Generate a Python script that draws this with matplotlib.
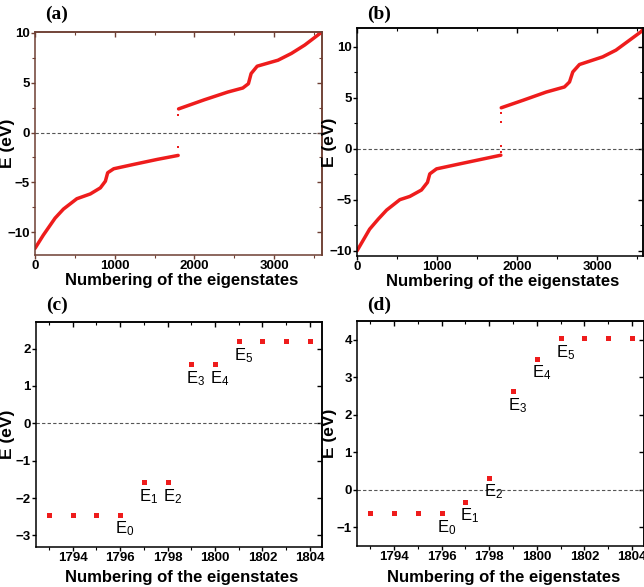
import matplotlib
matplotlib.use('Agg')
import matplotlib.pyplot as plt
from matplotlib.ticker import MultipleLocator

plt.rcParams['font.family'] = ['Liberation Sans', 'DejaVu Sans']

# panel (a): lower branch, in-gap states, upper branch
a_low_x = [0, 105, 252, 357, 525, 694, 820, 883, 912, 988, 1240, 1534, 1796]
a_low_e = [-11.64, -10.3, -8.6, -7.69, -6.65, -6.17, -5.56, -4.89, -4.04, -3.64, -3.2, -2.7, -2.3]
a_gap_x = [1797, 1798, 1799, 1800]
a_gap_e = [-1.45, -1.45, 1.79, 1.79]
a_up_x = [1801, 2122, 2417, 2607, 2677, 2711, 2787, 3048, 3216, 3383, 3600]
a_up_e = [2.37, 3.28, 4.06, 4.47, 4.9, 5.92, 6.66, 7.26, 7.94, 8.78, 10.1]

# panel (b)
b_low_x = [0, 158, 266, 370, 535, 660, 805, 880, 909, 993, 1283, 1796]
b_low_e = [-10.0, -7.87, -6.88, -6.0, -4.98, -4.66, -4.03, -3.28, -2.45, -1.96, -1.47, -0.62]
b_gap_x = [1797, 1798, 1799, 1800]
b_gap_e = [-0.32, 0.32, 2.63, 3.49]
b_up_x = [1801, 2071, 2362, 2590, 2653, 2694, 2777, 3067, 3233, 3545, 3570]
b_up_e = [4.03, 4.76, 5.57, 6.07, 6.56, 7.54, 8.27, 9.02, 9.68, 11.48, 11.7]

# panels (c) and (d): states around the gap
n_states = [1793, 1794, 1795, 1796, 1797, 1798, 1799, 1800, 1801, 1802, 1803, 1804]
c_e = [-2.45, -2.45, -2.44, -2.44, -1.58, -1.58, 1.58, 1.58, 2.2, 2.2, 2.21, 2.21]
d_e = [-0.62, -0.62, -0.62, -0.62, -0.32, 0.32, 2.63, 3.49, 4.03, 4.03, 4.04, 4.04]
lab_idx = [3, 4, 5, 6, 7, 8]
lab_txt = ['E_0', 'E_1', 'E_2', 'E_3', 'E_4', 'E_5']

red = '#ee1c1c'

fig = plt.figure(figsize=(6.44, 5.87), dpi=100)
ax_a = fig.add_axes([0.0543, 0.5656, 0.4457, 0.380])
ax_b = fig.add_axes([0.5543, 0.5639, 0.4441, 0.3884])
ax_c = fig.add_axes([0.0559, 0.0687, 0.4436, 0.3833])
ax_d = fig.add_axes([0.5543, 0.0698, 0.4457, 0.3838])


def style(ax, xmaj, xmin, ymaj, ymin=None, spine_col='black'):
    ax.xaxis.set_major_locator(MultipleLocator(xmaj))
    ax.xaxis.set_minor_locator(MultipleLocator(xmin))
    ax.yaxis.set_major_locator(MultipleLocator(ymaj))
    if ymin:
        ax.yaxis.set_minor_locator(MultipleLocator(ymin))
    for s in ax.spines.values():
        s.set_color(spine_col)
        s.set_linewidth(1.1)
    ax.tick_params(which='both', direction='out', labelsize=9.5, pad=0.8,
                   color=spine_col)
    ax.tick_params(which='major', length=2.8, width=1)
    ax.tick_params(which='minor', length=2, width=0.8)
    for lab in ax.get_xticklabels() + ax.get_yticklabels():
        lab.set_fontweight('bold')
    # inward ticks on top and right
    top = ax.secondary_xaxis('top')
    top.xaxis.set_major_locator(MultipleLocator(xmaj))
    top.xaxis.set_minor_locator(MultipleLocator(xmin))
    right = ax.secondary_yaxis('right')
    right.yaxis.set_major_locator(MultipleLocator(ymaj))
    if ymin:
        right.yaxis.set_minor_locator(MultipleLocator(ymin))
    for sec in (top, right):
        sec.tick_params(which='both', direction='in', labeltop=False,
                        labelright=False, color=spine_col)
        sec.tick_params(which='major', length=3.5, width=1)
        sec.tick_params(which='minor', length=2.5, width=0.8)
        for s in sec.spines.values():
            s.set_color(spine_col)
            s.set_linewidth(1.1)
    ax.set_xlabel('Numbering of the eigenstates', fontsize=12, fontweight='bold')
    ax.set_ylabel('E (eV)', fontsize=12.5, fontweight='bold')
    ax.axhline(0, color='#555555', lw=0.8, ls=(0, (3, 2)), zorder=1)


# (a)
ax_a.plot(a_low_x, a_low_e, color=red, lw=2.5, solid_capstyle='round')
ax_a.plot(a_up_x, a_up_e, color=red, lw=2.5, solid_capstyle='round')
ax_a.plot(a_gap_x, a_gap_e, 's', color=red, ms=1.8, mew=0)
ax_a.set_xlim(0, 3600)
ax_a.set_ylim(-12.3, 10.1)

# (b)
ax_b.plot(b_low_x, b_low_e, color=red, lw=2.5, solid_capstyle='round')
ax_b.plot(b_up_x, b_up_e, color=red, lw=2.5, solid_capstyle='round')
ax_b.plot(b_gap_x, b_gap_e, 's', color=red, ms=1.8, mew=0)
ax_b.set_xlim(0, 3570)
ax_b.set_ylim(-10.5, 11.85)

# (c) and (d)
for ax, e, ylim in [(ax_c, c_e, (-3.3, 2.72)), (ax_d, d_e, (-1.5, 4.5))]:
    ax.plot(n_states, e, 's', color=red, ms=3.6, mew=0, zorder=3)
    for i, t in zip(lab_idx, lab_txt):
        ax.annotate('$\\mathregular{%s}$' % t, (n_states[i], e[i]),
                    xytext=(-3.5, -3.5), textcoords='offset points',
                    ha='left', va='top', fontsize=12)
    ax.set_xlim(1792.45, 1804.5)
    ax.set_ylim(*ylim)

style(ax_a, 1000, 500, 5, 2.5, spine_col='#6e3f33')
style(ax_b, 1000, 500, 5, 2.5)
style(ax_c, 2, 1, 1)
style(ax_d, 2, 1, 1)

ax_a.yaxis.set_label_coords(-0.07, 0.5)
ax_b.yaxis.set_label_coords(-0.07, 0.5)
ax_c.yaxis.set_label_coords(-0.073, 0.5)
ax_d.yaxis.set_label_coords(-0.07, 0.5)
ax_a.xaxis.set_label_coords(0.51, -0.082)
ax_b.xaxis.set_label_coords(0.51, -0.08)
ax_c.xaxis.set_label_coords(0.51, -0.105)
ax_d.xaxis.set_label_coords(0.51, -0.105)

for x, y, t in [(57, 14, '(a)'), (379, 14, '(b)'), (57, 305, '(c)'), (379, 305, '(d)')]:
    fig.text(x / 644, 1 - y / 587, t, ha='center', va='center', fontsize=14,
             fontweight='bold', family=['Liberation Serif', 'DejaVu Serif'])

fig.savefig('out.png', dpi=100)
